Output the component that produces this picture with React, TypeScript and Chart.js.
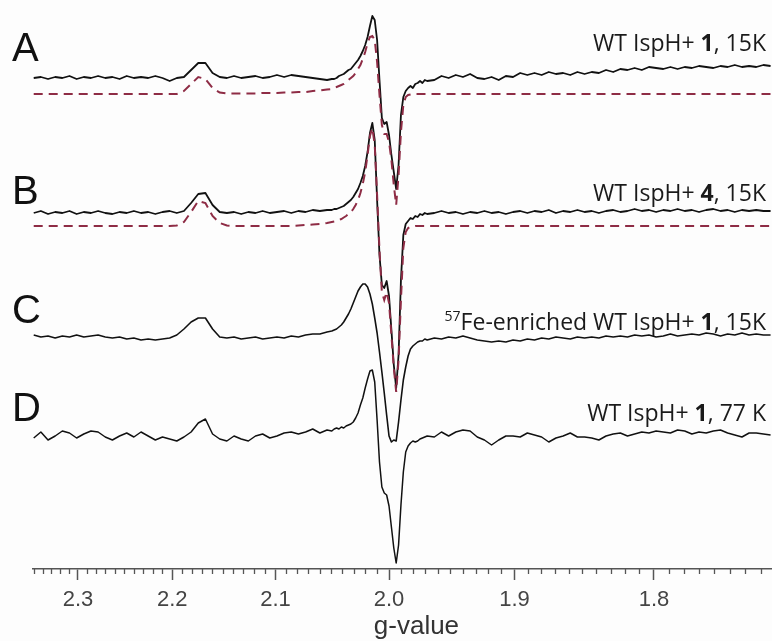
import React, { useEffect, useRef } from "react";
import { Chart, registerables } from "chart.js";
Chart.register(...registerables);

// x positions in 1000/g (proportional to magnetic field); labels shown as g-values
const recipG = [
  425.5, 427, 428.5, 430, 431.5, 433, 434.5, 436, 437.5, 439, 440.5, 442, 443.5, 445, 446.5, 448, 449.5, 451, 452.5, 454, 455.5,
  457, 458.5, 460, 461.5, 463, 464.5, 466, 467.5, 469, 470.5, 472, 473.5, 475, 476.5, 478, 479.5, 481, 482.5, 484, 485.5, 487,
  488, 488.5, 489, 489.5, 490, 490.5, 491, 491.5, 492, 492.5, 493, 493.5, 494, 494.5, 495, 495.5, 496, 496.5, 497, 497.5, 498,
  498.5, 499, 499.5, 500, 500.5, 501, 501.5, 502, 502.5, 503, 503.5, 504, 504.5, 505, 505.5, 506, 506.5, 507, 507.5, 508,
  509.5, 511, 512.5, 514, 515.5, 517, 518.5, 520, 521.5, 523, 524.5, 526, 527.5, 529, 530.5, 532, 533.5, 535, 536.5, 538,
  539.5, 541, 542.5, 544, 545.5, 547, 548.5, 550, 551.5, 553, 554.5, 556, 557.5, 559, 560.5, 562, 563.5, 565, 566.5, 568,
  569.5, 571, 572.5, 574, 575.5, 577, 578.5, 580,
];

// Spectrum A: WT IspH + 1, 15K
const traceA = [
  0, 1, -1, 1, 0, 2, -1, 1, 0, 2, 0, 1, -1, 2, 0, 1, 0, 2, 0, -3, 0, 1, 8, 15, 15, 5, 1, 0, 2, 0, 1, 2, 0, 1, 3, 1, 3, 2, 1, 0, -1, -2,
  -1, -1, 0, 2, 3, 4, 6, 8, 9, 12, 15, 18, 22, 27, 33, 41, 52, 62, 58, 38, -2, -40, -46, -44, -57, -77, -94, -111, -87, -37,
  -19, -13, -10, -8, -10, -6, -5, -3, -5, -2, -3,
  -2, 2, 0, 3, 1, 4, 0, -1, 1, -2, 2, 1, 5, 3, 5, 3, 6, 4, 5, 3, 6, 4, 6, 5, 8, 6, 9, 8, 10, 8, 11, 10, 9, 11, 9, 11, 10, 12,
  11, 10, 12, 11, 13, 11, 12, 11, 13, 12,
];
const simA = [
  0, 0, 0, 0, 0, 0, 0, 0, 0, 0, 0, 0, 0, 0, 0, 0, 0, 0, 0, 0, 0, 3, 10, 17, 15, 6, 1.5, 0.5, 0.5, 0.5, 0.5, 0.5, 1, 1, 1, 1.5,
  1.5, 2, 2, 3, 3.5, 4.5,
  5, 6, 7, 8, 9, 10, 12, 14, 16, 18, 21, 25, 29, 35, 42, 51, 57, 58, 54, 32, -1, -31, -40, -40, -48, -66, -91, -111, -81, -38,
  -11, -3, -1, -0.5, 0, 0, 0, 0, 0, 0, 0,
  0, 0, 0, 0, 0, 0, 0, 0, 0, 0, 0, 0, 0, 0, 0, 0, 0, 0, 0, 0, 0, 0, 0, 0, 0, 0, 0, 0, 0, 0, 0, 0, 0, 0, 0, 0, 0, 0, 0, 0,
  0, 0, 0, 0, 0, 0, 0, 0,
];
// Spectrum B: WT IspH + 4, 15K
const traceB = [
  0, 2, -1, 1, 0, 2, -1, 1, 0, 2, 0, -1, 1, 0, 2, 0, 1, -1, 1, 2, 0, 2, 10, 19, 20, 8, 1, 0, 1, -1, 1, 0, 2, 0, 1, 2, 0, 2, 1, 3,
  2, 3,
  3, 4, 4, 5, 6, 7, 9, 11, 13, 16, 20, 24, 30, 37, 47, 61, 80, 90, 73, 13, -42, -72, -75, -68, -83, -117, -152, -175, -142,
  -67, -22, -11, -8, -5, -6, -3, -4, -1, -2, 0, -1,
  0, 2, 0, 1, -1, 1, 0, 2, 0, 1, -1, 1, 2, 0, 2, 1, 3, 0, 2, 1, 3, 1, 2, 0, 2, 3, 1, 2, 4, 2, 3, 1, 3, 2, 4, 2, 3, 1, 3, 4, 2,
  3, 1, 3, 2, 3, 2, 2,
];
const simB = [
  0, 0, 0, 0, 0, 0, 0, 0, 0, 0, 0, 0, 0, 0, 0, 0, 0, 0, 0, 0, 0.5, 4, 14, 25, 23, 10, 3, 0.5, 0, 0, 0, 0, 0, 0, 0, 0, 0, 0.5,
  1, 1.5, 2, 3,
  4, 4.5, 5, 6, 7, 8.5, 10, 12, 14, 17, 21, 26, 33, 42, 54, 71, 90, 98, 81, 31, -24, -66, -74, -66, -77, -109, -142, -166,
  -134, -74, -22, -6, -2, -1, -0.5, 0, 0, 0, 0, 0, 0,
  0, 0, 0, 0, 0, 0, 0, 0, 0, 0, 0, 0, 0, 0, 0, 0, 0, 0, 0, 0, 0, 0, 0, 0, 0, 0, 0, 0, 0, 0, 0, 0, 0, 0, 0, 0, 0, 0, 0, 0,
  0, 0, 0, 0, 0, 0, 0, 0,
];
// Spectrum C: 57Fe-enriched WT IspH + 1, 15K
const traceC = [
  2, 0, 1, -1, 1, 0, 2, 0, 1, 2, 0, -1, 0, -2, -1, -3, -2, -3, -2, -1, 2, 8, 15, 19, 19, 8, 0, -1, 0, -2, -1, 0, -2, -1, 0, -1,
  1, 0, 2, 3, 3, 5,
  6, 7, 8, 10, 12, 15, 19, 23, 28, 34, 40, 46, 50, 53, 53, 50, 43, 33, 19, 4, -15, -35, -56, -78, -99, -105, -103, -104, -85,
  -63, -43, -30, -19, -12, -9, -7, -5, -4, -4, -2, -3,
  -1, -2, 0, -1, 1, -1, -3, -4, -5, -4, -5, -3, -4, -2, -3, -1, -2, 0, -1, -2, 0, -1, 0, -1, 1, 0, 1, 0, 2, 1, 2, 0, 1, 3, 1,
  2, 3, 2, 4, 3, 1, 3, 2, 4, 2, 3, 2, 2,
];
// Spectrum D: WT IspH + 1, 77 K
const traceD = [
  -2, 4, -4, 0, 5, 3, -2, 2, 5, 4, -1, -4, 0, 3, -1, 4, 0, -4, -1, -3, -5, -1, 4, 13, 17, 2, -3, -5, 0, -3, -5, 0, 2, -2, 0, 3,
  4, 2, 4, 7, 3, 6,
  5, 7, 8, 7, 9, 8, 10, 11, 12, 14, 18, 23, 31, 38, 48, 57, 65, 66, 54, 16, -26, -51, -57, -59, -70, -91, -112, -127, -109, -69,
  -36, -16, -10, -7, -5, -6, -5, -3, -2, -1, 0,
  -1, 4, 0, 4, 6, 5, -1, -4, -9, -4, 0, 0, -1, 3, 1, -1, -6, -2, 0, 3, -1, -1, -2, -4, 0, 2, 3, 0, 2, 4, 3, 5, 4, 3, 6, 5, 2,
  4, 3, 5, 6, 3, 1, -1, 3, 3, 2, 1,
];

// vertical stacking offsets of each spectrum
const offsetA = 491;
const offsetSimA = 475;
const offsetB = 356;
const offsetSimB = 343;
const offsetC = 232;
const offsetD = 133;

const majorG = [2.3, 2.2, 2.1, 2.0, 1.9, 1.8];
const minorGFrom = 235; // g * 100
const minorGTo = 173;
const xMin = 425.35;
const xMax = 580.09;

const panelLetters = ["A", "B", "C", "D"];
const panelOffsets = [offsetA, offsetB, offsetC, offsetD];
const letterLift = [28, 20, 25, 26];
const labelLift = [34, 19, 14, 22];
type Seg = { t: string; bold?: boolean; sup?: boolean };
const panelLabels: Seg[][] = [
  [{ t: "WT IspH+ " }, { t: "1", bold: true }, { t: ", 15K" }],
  [{ t: "WT IspH+ " }, { t: "4", bold: true }, { t: ", 15K" }],
  [{ t: "57", sup: true }, { t: "Fe-enriched WT IspH+ " }, { t: "1", bold: true }, { t: ", 15K" }],
  [{ t: "WT IspH+ " }, { t: "1", bold: true }, { t: ", 77 K" }],
];

const LABEL_FONT = '"Open Sans", "Noto Sans", sans-serif';
const AXIS_FONT = '"Liberation Sans", Arial, sans-serif';

function mk(vals: number[], off: number) {
  return vals.map((v, i) => ({ x: recipG[i], y: off + v }));
}

const textPlugin = {
  id: "panelText",
  afterDraw(chart: any) {
    const { ctx, chartArea, scales } = chart;
    const xs = scales.x;
    const ys = scales.y;
    ctx.save();
    // minor ticks every 0.01 in g
    ctx.strokeStyle = "#555";
    ctx.lineWidth = 1.3;
    for (let k = minorGFrom; k >= minorGTo; k--) {
      if (k % 10 === 0) continue;
      const px = Math.round(xs.getPixelForValue(1000 / (k / 100))) + 0.5;
      ctx.beginPath();
      ctx.moveTo(px, chartArea.bottom);
      ctx.lineTo(px, chartArea.bottom + 5);
      ctx.stroke();
    }
    // panel letters
    ctx.fillStyle = "#111";
    ctx.textBaseline = "middle";
    ctx.textAlign = "left";
    ctx.font = `40px ${AXIS_FONT}`;
    panelLetters.forEach((L, i) => {
      ctx.fillText(L, 12, ys.getPixelForValue(panelOffsets[i] + letterLift[i]));
    });
    // panel labels, right aligned
    ctx.fillStyle = "#1a1a1a";
    panelLabels.forEach((segs, i) => {
      const y = ys.getPixelForValue(panelOffsets[i] + labelLift[i]);
      const fonts = segs.map((s) =>
        s.sup ? `14px ${LABEL_FONT}` : s.bold ? `bold 23px ${LABEL_FONT}` : `23px ${LABEL_FONT}`
      );
      const widths = segs.map((s, j) => {
        ctx.font = fonts[j];
        return ctx.measureText(s.t).width;
      });
      const total = widths.reduce((a, b) => a + b, 0);
      let x = chartArea.right - 5 - total;
      segs.forEach((s, j) => {
        ctx.font = fonts[j];
        ctx.fillText(s.t, x, s.sup ? y - 6 : y);
        x += widths[j];
      });
    });
    ctx.restore();
  },
};

export default function App() {
  const ref = useRef<HTMLCanvasElement>(null);
  useEffect(() => {
    document.body.style.margin = "0";
    const solid = (data: any, w: number) => ({
      data,
      borderColor: "#111",
      borderWidth: w,
      pointRadius: 0,
      tension: 0,
      fill: false,
      order: 2,
      borderJoinStyle: "round" as const,
    });
    const dashed = (data: any) => ({
      data,
      borderColor: "#8e2c45",
      borderWidth: 2,
      borderDash: [9, 6],
      pointRadius: 0,
      tension: 0,
      fill: false,
      order: 1,
    });
    const chart = new Chart(ref.current as HTMLCanvasElement, {
      type: "line",
      data: {
        datasets: [
          solid(mk(traceA, offsetA), 1.8),
          solid(mk(traceB, offsetB), 1.8),
          solid(mk(traceC, offsetC), 1.6),
          solid(mk(traceD, offsetD), 1.5),
          dashed(mk(simA, offsetSimA)),
          dashed(mk(simB, offsetSimB)),
        ] as any,
      },
      options: {
        animation: false,
        responsive: false,
        layout: { padding: { left: 33, right: 1, top: 0, bottom: 0 } },
        plugins: { legend: { display: false }, tooltip: { enabled: false } },
        scales: {
          x: {
            type: "linear",
            min: xMin,
            max: xMax,
            afterBuildTicks: (s: any) => {
              s.ticks = majorG.map((g) => ({ value: 1000 / g }));
            },
            ticks: {
              callback: (v: any) => (1000 / Number(v)).toFixed(1),
              font: { family: AXIS_FONT, size: 22, lineHeight: 1.0 },
              color: "#444",
              padding: 8.5,
              maxRotation: 0,
              autoSkip: false,
            },
            grid: {
              drawOnChartArea: false,
              drawTicks: true,
              tickLength: 11,
              tickWidth: 1.5,
              tickColor: "#555",
            },
            border: { display: true, color: "#555", width: 1.5 },
            title: {
              display: true,
              text: "    g-value",
              font: { family: AXIS_FONT, size: 26, lineHeight: 15 / 26 },
              color: "#333",
              padding: { top: 0, bottom: 7 },
            },
          },
          y: { display: false, min: 0, max: 569 },
        },
      },
      plugins: [textPlugin],
    });
    return () => chart.destroy();
  }, []);
  return (
    <div style={{ position: "absolute", left: 0, top: 0, width: 772, height: 641, background: "#fdfdfd" }}>
      <canvas ref={ref} width={772} height={641} style={{ display: "block", width: 772, height: 641 }} />
    </div>
  );
}
